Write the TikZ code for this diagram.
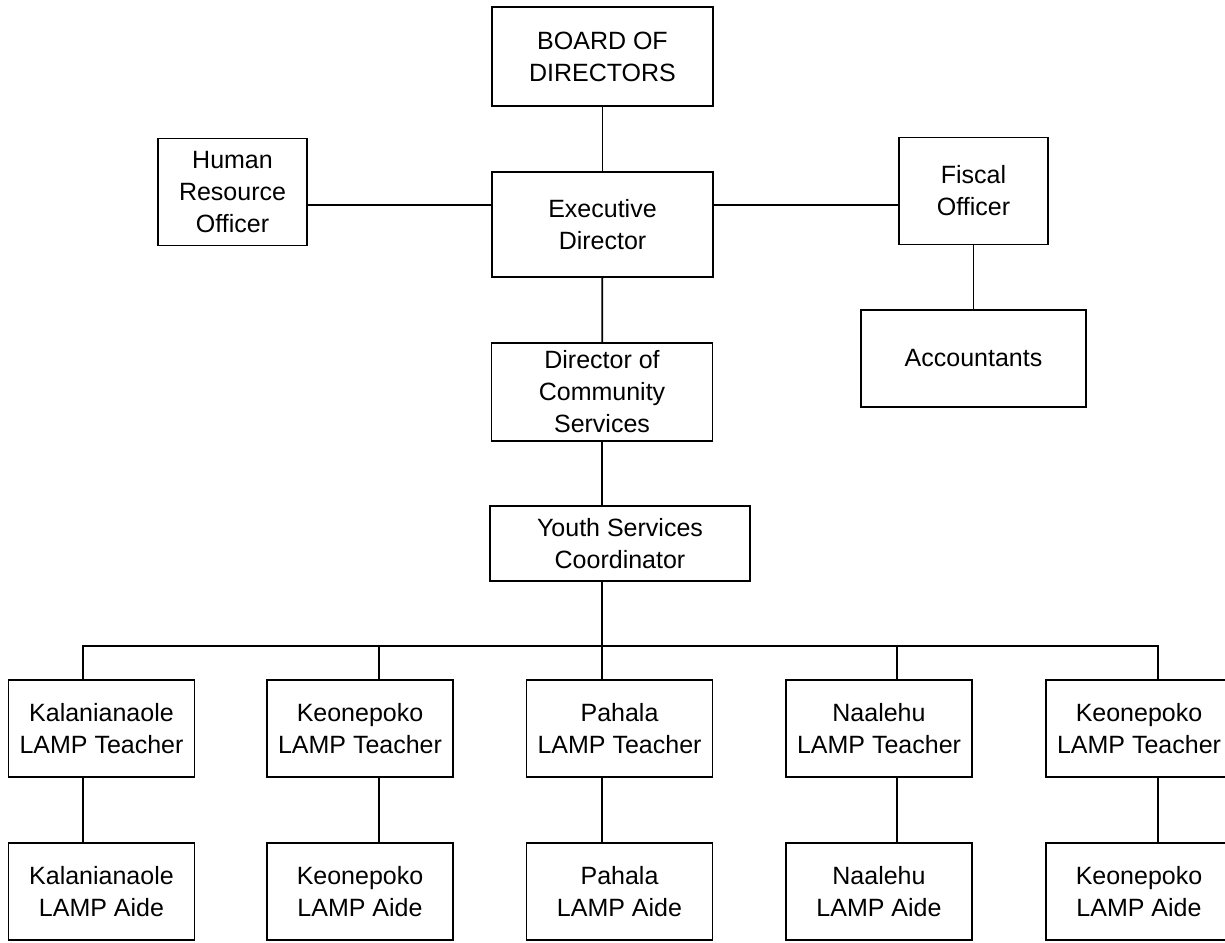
\documentclass[tikz,border=0pt]{standalone}
\usepackage{fontspec}
\setmainfont{Liberation Sans}
\usetikzlibrary{positioning}
\begin{document}
\begin{tikzpicture}[
	x=1pt, y=-1pt,
	line width=1.8pt,
	font=\fontsize{25}{32}\selectfont
]
\tikzset{
    mybox/.style = {draw=black, align=center, inner sep=2pt},
    midbox/.style = {mybox, minimum width=221pt},
    sidebox/.style = {mybox, minimum width=149pt, minimum height=107pt},
    schoolbox/.style = {mybox, minimum width=186pt, minimum height=97pt},
    edgen/.style = {-}
}
\useasboundingbox (0,0) rectangle (1225,942);
%
\node[midbox, minimum height=99pt] at (602.5,56.5) (bod) {BOARD OF\\DIRECTORS};
\node[midbox, minimum height=105pt] at (602.5,224.5) (exd) {Executive\\Director};
\node[sidebox] at (232.5,192) (hro) {Human\\Resource\\Officer};
\node[sidebox] at (973.5,191) (fo) {Fiscal\\Officer};
\node[mybox, minimum width=225pt, minimum height=97pt] at (973.5,358.5) (acc) {Accountants};
\node[midbox, minimum height=98pt] at (602,392) (dcs) {Director of\\Community\\Services};
\node[mybox, minimum width=260pt, minimum height=75pt] at (620,543.5) (ysc) {Youth Services\\Coordinator};
%
\coordinate (hline) at (602,205);
\coordinate (busc) at (602,646);
%
\draw[edgen] (bod) -- (exd);
\draw[edgen] (hro.east |- hline) -- (exd.west |- hline);
\draw[edgen] (exd.east |- hline) -- (fo.west |- hline);
\draw[edgen] (fo) -- (acc);
\draw[edgen] (exd) -- (dcs);
\draw[edgen] (dcs.south) -- (dcs.south |- ysc.north);
\draw[edgen] (ysc.south -| busc) -- (busc);
%
\foreach \i/\dx/\cx/\place in {1/83/101.5/Kalanianaole, 2/379/360/Keonepoko, 3/602/619.5/Pahala, 4/897/879/Naalehu, 5/1158/1139/Keonepoko} {
    \node[schoolbox] at (\cx,728.5) (t\i) {\place\\LAMP Teacher};
    \node[schoolbox] at (\cx,891.5) (a\i) {\place\\LAMP Aide};
    \coordinate (d\i) at (\dx,646);
    \draw[edgen] (d\i) -- (t\i.north -| d\i);
    \draw[edgen] (t\i.south -| d\i) -- (a\i.north -| d\i);
}
\draw[edgen] (t1.north -| d1) -- (d1) -- (d5) -- (t5.north -| d5);
\end{tikzpicture}
\end{document}
